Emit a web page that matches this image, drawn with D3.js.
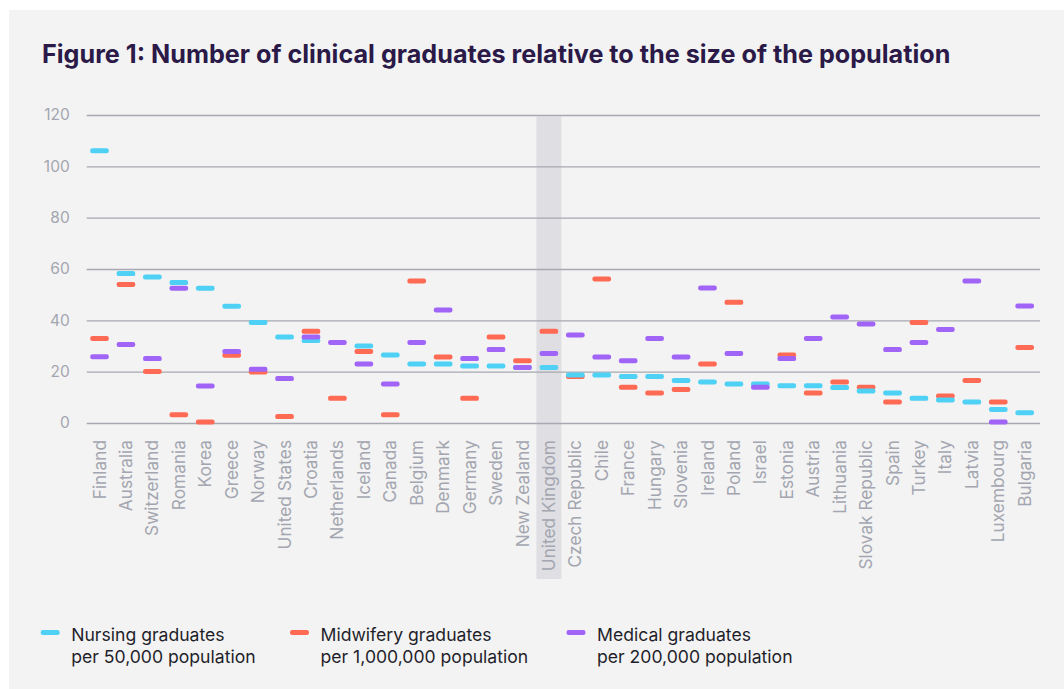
<!DOCTYPE html>
<html>
<head>
<meta charset="utf-8">
<script src="https://cdn.jsdelivr.net/npm/d3@7/dist/d3.min.js"></script>
<style>
  html, body { margin: 0; padding: 0; background: #ffffff; }
  svg { display: block; }
</style>
</head>
<body>
<svg id="chart" width="1064" height="689"></svg>
<script>
const countries = ["Finland","Australia","Switzerland","Romania","Korea","Greece","Norway","United States","Croatia","Netherlands","Iceland","Canada","Belgium","Denmark","Germany","Sweden","New Zealand","United Kingdom","Czech Republic","Chile","France","Hungary","Slovenia","Ireland","Poland","Israel","Estonia","Austria","Lithuania","Slovak Republic","Spain","Turkey","Italy","Latvia","Luxembourg","Bulgaria"];

const nursing   = [106.1,58.2,56.9,54.7,52.5,45.5,39.2,33.5,32.1,null,30.0,26.5,23.0,23.0,22.2,22.2,21.6,21.6,18.7,18.7,18.1,18.1,16.6,16.0,15.2,15.2,14.5,14.5,13.8,12.5,11.7,9.6,9.0,8.2,5.3,4.0];
const midwifery = [32.9,54.0,20.1,3.2,0.4,26.4,19.9,2.5,35.7,9.6,27.9,3.2,55.3,25.7,9.6,33.5,24.3,35.7,18.1,56.1,13.9,11.7,13.1,23.0,47.0,null,26.5,11.7,16.0,13.9,8.2,39.2,10.5,16.6,8.2,29.4];
const medical   = [25.8,30.6,25.1,52.5,14.4,27.9,20.9,17.3,33.5,31.4,23.0,15.2,31.4,44.0,25.1,28.6,21.6,27.1,34.3,25.7,24.3,32.9,25.7,52.6,27.1,13.9,25.1,32.9,41.3,38.6,28.6,31.4,36.4,55.3,0.4,45.6];

const yTicks = [0,20,40,60,80,100,120];
const highlight = "United Kingdom";

const seriesNames = ["Nursing graduates", "Midwifery graduates", "Medical graduates"];
const seriesSub = ["per 50,000 population", "per 1,000,000 population", "per 200,000 population"];
const colors = { nursing: "#4fd0f5", midwifery: "#ff6a55", medical: "#a065f7" };

const FONT = "Inter, Lato, 'Noto Sans', sans-serif";
const svg = d3.select("#chart");
const W = 1064, H = 689;

// panel background
svg.append("rect").attr("x", 9).attr("y", 10).attr("width", W - 9).attr("height", H - 10).attr("fill", "#f3f3f3");

// title
svg.append("text")
  .attr("x", 42).attr("y", 63)
  .attr("font-family", FONT)
  .attr("font-weight", 700)
  .attr("font-size", 25.2)
  .attr("fill", "#2b1a48")
  .text("Figure 1: Number of clinical graduates relative to the size of the population");

const x = d3.scaleBand().domain(countries).range([86.3, 1037.9]).padding(0);
const y = d3.scaleLinear().domain([0, 120]).range([423, 115]);

// highlight band
const hbW = 25;
svg.append("rect")
  .attr("x", x(highlight) + x.bandwidth() / 2 - hbW / 2)
  .attr("y", 116.5)
  .attr("width", hbW)
  .attr("height", 579 - 116.5)
  .attr("fill", "#dfdfe3");

// y axis + gridlines
const gridRight = 1040;
const yAxis = svg.append("g")
  .attr("transform", "translate(86.7,0)")
  .call(d3.axisLeft(y).tickValues(yTicks).tickSize(-(gridRight - 86.7)).tickPadding(17));
yAxis.select(".domain").remove();
yAxis.selectAll(".tick line").attr("stroke", "#a6a9b1").attr("stroke-width", 1.4);
yAxis.selectAll(".tick text")
  .attr("font-family", FONT)
  .attr("font-size", 15.5)
  .attr("fill", "#a3a6b0");

// x axis labels
const xAxis = svg.append("g")
  .attr("transform", "translate(0,423)")
  .call(d3.axisBottom(x).tickSize(0));
xAxis.select(".domain").remove();
xAxis.selectAll(".tick text")
  .attr("font-family", FONT)
  .attr("font-size", 17.3)
  .attr("fill", "#a3a6b0")
  .attr("text-anchor", "end")
  .attr("transform", "rotate(-90)")
  .attr("x", -17)
  .attr("y", 0)
  .attr("dy", "0.35em");

// bars
const barW = 18.7, barH = 5;
function drawSeries(values, color) {
  const data = countries.map((c, i) => ({ c, v: values[i] })).filter(d => d.v != null);
  svg.append("g").selectAll("rect")
    .data(data).join("rect")
    .attr("x", d => x(d.c) + x.bandwidth() / 2 - barW / 2)
    .attr("y", d => y(d.v) - barH / 2)
    .attr("width", barW)
    .attr("height", barH)
    .attr("rx", 2.2)
    .attr("fill", color);
}
drawSeries(midwifery, colors.midwifery);
drawSeries(nursing, colors.nursing);
drawSeries(medical, colors.medical);

// legend
const legendX = [40.7, 290, 566.5];
const legendColors = [colors.nursing, colors.midwifery, colors.medical];
legendX.forEach((lx, i) => {
  const g = svg.append("g");
  g.append("rect").attr("x", lx).attr("y", 630).attr("width", 19).attr("height", 5).attr("rx", 2.2).attr("fill", legendColors[i]);
  const t = g.append("text")
    .attr("font-family", FONT)
    .attr("font-size", 17.6)
    .attr("fill", "#1f1f2b");
  t.append("tspan").attr("x", lx + 30.5).attr("y", 641).text(seriesNames[i]);
  t.append("tspan").attr("x", lx + 30.5).attr("y", 663).text(seriesSub[i]);
});
</script>
</body>
</html>
